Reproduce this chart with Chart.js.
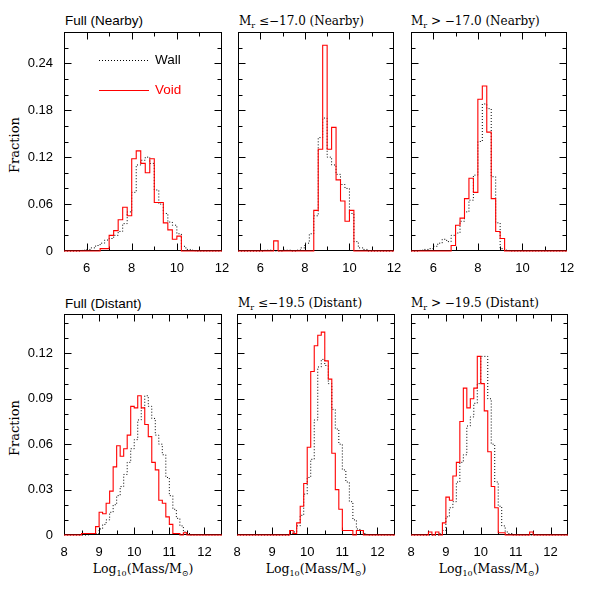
<!DOCTYPE html>
<html lang="en">
<head>
<meta charset="UTF-8">
<title>Stellar mass distributions: wall vs void</title>
<style>
  body { margin: 0; background: #fff; }
  #page { position: relative; width: 599px; height: 599px; overflow: hidden; background: #fff; }
  canvas { position: absolute; }
  .t { position: absolute; white-space: nowrap; color: #000; line-height: 14px; }
  .sans { font-family: "Liberation Sans", Arial, sans-serif; font-size: 13.5px; }
  .serif { font-family: "DejaVu Serif", serif; font-size: 12px; }
  .serif sub { font-size: 8px; vertical-align: -3px; line-height: 0; }
  .ytitle { width: 80px; text-align: center; transform: rotate(-90deg); font-size: 13px; }
  .xtitle { width: 160px; text-align: center; font-size: 12.5px; }
</style>
</head>
<body>
<div id="page">
  <div class="t sans" style="left:65px; top:14px;">Full (Nearby)</div>
  <div class="t serif" style="left:239px; top:14px;">M<sub>r</sub> ≤−17.0 (Nearby)</div>
  <div class="t serif" style="left:411px; top:14px;">M<sub>r</sub> &gt; −17.0 (Nearby)</div>
  <div class="t sans" style="left:65px; top:297px;">Full (Distant)</div>
  <div class="t serif" style="left:238px; top:296px;">M<sub>r</sub> ≤−19.5 (Distant)</div>
  <div class="t serif" style="left:411px; top:296px;">M<sub>r</sub> &gt; −19.5 (Distant)</div>
  <div class="t serif ytitle" style="left:-25px; top:138px;">Fraction</div>
  <div class="t serif ytitle" style="left:-25px; top:421px;">Fraction</div>
  <div class="t serif xtitle" style="left:63px; top:562px;">Log<sub>10</sub>(Mass/M<sub>⊙</sub>)</div>
  <div class="t serif xtitle" style="left:236px; top:562px;">Log<sub>10</sub>(Mass/M<sub>⊙</sub>)</div>
  <div class="t serif xtitle" style="left:409px; top:562px;">Log<sub>10</sub>(Mass/M<sub>⊙</sub>)</div>
</div>

<script src="https://cdn.jsdelivr.net/npm/chart.js@4.4.0/dist/chart.umd.min.js"></script>
<script>
// ---- axes ----
const topXTicks = [6, 8, 10, 12];
const topXMarks = [6, 7, 8, 9, 10, 11];
const topYTicks = [0, 0.06, 0.12, 0.18, 0.24];
const topYLabels = ['0', '0.06', '0.12', '0.18', '0.24'];
const topYMarks = [0.02, 0.04, 0.06, 0.08, 0.10, 0.12, 0.14, 0.16, 0.18, 0.20, 0.22, 0.24, 0.26];
const topXRange = [5, 12];
const topYMax = 0.28;

const botXTicks = [8, 9, 10, 11, 12];
const botXMarks = [8.5, 9, 9.5, 10, 10.5, 11, 11.5, 12];
const botYTicks = [0, 0.03, 0.06, 0.09, 0.12];
const botYLabels = ['0', '0.03', '0.06', '0.09', '0.12'];
const botYMarks = [0.01, 0.02, 0.03, 0.04, 0.05, 0.06, 0.07, 0.08, 0.09, 0.10, 0.11, 0.12, 0.13, 0.14];
const botXRange = [8, 12.5];
const botYMax = 0.146;

const nearbyBin = 0.2;
const distantBin = 0.1;

// ---- histograms (fraction per bin, first bin starts at *Start) ----
const fullNearbyWallStart = 5.8;
const fullNearbyWall = [0.001, 0.002, 0.004, 0.007, 0.010, 0.014, 0.016, 0.020, 0.025, 0.035, 0.050, 0.075, 0.110,
  0.116, 0.120, 0.112, 0.078, 0.060, 0.048, 0.037, 0.033, 0.022, 0.006, 0.002, 0.001];
const fullNearbyVoidStart = 6.6;
const fullNearbyVoid = [0.003, 0.003, 0.020, 0.026, 0.040, 0.056, 0.045, 0.118, 0.128, 0.112, 0.100, 0.118,
  0.062, 0.062, 0.036, 0.027, 0.015, 0.019];

const brightNearbyWallStart = 6.2;
const brightNearbyWall = [0.001, 0.001, 0, 0, 0.001, 0.001, 0, 0.001, 0.004, 0.010, 0.022, 0.045, 0.145, 0.170,
  0.120, 0.110, 0.098, 0.085, 0.080, 0.048, 0.012, 0.004, 0.002];
const brightNearbyVoidStart = 6.6;
const brightNearbyVoid = [0.013, 0, 0, 0, 0, 0, 0, 0, 0, 0.052, 0.130, 0.263, 0.130, 0.158, 0.091, 0.064, 0.038, 0.052];

const faintNearbyWallStart = 5.4;
const faintNearbyWall = [0.001, 0.002, 0.003, 0.006, 0.010, 0.015, 0.012, 0.020, 0.023, 0.038, 0.050, 0.065, 0.097,
  0.140, 0.188, 0.182, 0.095, 0.036, 0.003, 0.001];
const faintNearbyVoidStart = 6.8;
const faintNearbyVoid = [0.007, 0.033, 0.042, 0.067, 0.093, 0.075, 0.194, 0.211, 0.152, 0.067, 0.025, 0.016];

const fullDistantWallStart = 8.7;
const fullDistantWall = [0.0005, 0.0005, 0.001, 0.004, 0.007, 0.010, 0.015, 0.020, 0.026, 0.032, 0.040, 0.048, 0.057,
  0.063, 0.076, 0.084, 0.092, 0.085, 0.077, 0.066, 0.060, 0.053, 0.038, 0.026, 0.017, 0.011, 0.006, 0.002, 0.001];
const fullDistantVoidStart = 8.5;
const fullDistantVoid = [0.001, 0.001, 0.001, 0.001, 0.0055, 0.015, 0.014, 0.021, 0.029, 0.045, 0.059, 0.052, 0.057,
  0.066, 0.085, 0.084, 0.092, 0.084, 0.073, 0.065, 0.048, 0.043, 0.023, 0.021, 0.012, 0.007, 0.001, 0.001, 0, 0.0015];

const brightDistantWallStart = 9.5;
const brightDistantWall = [0.001, 0.002, 0.006, 0.013, 0.027, 0.038, 0.050, 0.076, 0.111, 0.116, 0.112, 0.100, 0.083,
  0.070, 0.060, 0.043, 0.035, 0.022, 0.010, 0.004, 0.002, 0.001];
const brightDistantVoidStart = 9.5;
const brightDistantVoid = [0.003, 0.001, 0.008, 0.019, 0.034, 0.058, 0.108, 0.125, 0.132, 0.134, 0.115, 0.103, 0.054,
  0.030, 0.017, 0.003, 0.003, 0.003, 0, 0.003, 0.003];

const faintDistantWallStart = 8.8;
const faintDistantWall = [0.001, 0.003, 0.012, 0.018, 0.022, 0.035, 0.048, 0.053, 0.072, 0.078, 0.087, 0.100, 0.118,
  0.118, 0.090, 0.060, 0.035, 0.019, 0.006, 0.002, 0.001];
const faintDistantVoidStart = 8.5;
const faintDistantVoid = [0.002, 0, 0.002, 0, 0.008, 0.025, 0.023, 0.039, 0.048, 0.075, 0.097, 0.084, 0.090, 0.097,
  0.118, 0.100, 0.082, 0.055, 0.032, 0.018, 0.0015, 0.0015, 0, 0, 0, 0, 0, 0, 0, 0.002];

const legendLabels = ['Wall', 'Void'];

// canvas margins round each plot box; top/right must cover Chart.js label padding
const M = { l: 44, t: 22, r: 22, b: 28 };
const topRow = { xr: topXRange, ymax: topYMax, xt: topXTicks, xm: topXMarks, yt: topYTicks, yl: topYLabels, ym: topYMarks, bin: nearbyBin };
const botRow = { xr: botXRange, ymax: botYMax, xt: botXTicks, xm: botXMarks, yt: botYTicks, yl: botYLabels, ym: botYMarks, bin: distantBin };

// plot boxes on the page: [left, top, right, bottom]
const panels = [
  { box: [64, 32, 222, 251], row: topRow, showY: true, legend: true,
    wall: [fullNearbyWallStart, fullNearbyWall], void: [fullNearbyVoidStart, fullNearbyVoid] },
  { box: [238, 32, 394, 251], row: topRow,
    wall: [brightNearbyWallStart, brightNearbyWall], void: [brightNearbyVoidStart, brightNearbyVoid] },
  { box: [411, 32, 567, 251], row: topRow,
    wall: [faintNearbyWallStart, faintNearbyWall], void: [faintNearbyVoidStart, faintNearbyVoid] },
  { box: [64, 314, 222, 535], row: botRow, showY: true,
    wall: [fullDistantWallStart, fullDistantWall], void: [fullDistantVoidStart, fullDistantVoid] },
  { box: [237, 314, 395, 535], row: botRow,
    wall: [brightDistantWallStart, brightDistantWall], void: [brightDistantVoidStart, brightDistantVoid] },
  { box: [411, 314, 568, 535], row: botRow,
    wall: [faintDistantWallStart, faintDistantWall], void: [faintDistantVoidStart, faintDistantVoid] }
];

// outline of a histogram as corner points
function steps(start, bin, vals, xr) {
  const pts = [{ x: xr[0], y: 0 }, { x: start, y: 0 }];
  vals.forEach((v, i) => {
    const lo = start + i * bin;
    pts.push({ x: lo, y: v }, { x: lo + bin, y: v });
  });
  pts.push({ x: start + vals.length * bin, y: 0 }, { x: xr[1], y: 0 });
  return pts;
}

const isMajor = (v, list) => list.some(t => Math.abs(t - v) < 1e-6);

function framePlugin(p) {
  return {
    id: 'frame',
    beforeDatasetsDraw(chart) {
      const { ctx, chartArea: a, scales: { x, y } } = chart;
      const L = Math.round(a.left) + 0.5, R = Math.round(a.right) - 0.5;
      const T = Math.round(a.top) + 0.5, B = Math.round(a.bottom) - 0.5;
      ctx.save();
      ctx.strokeStyle = '#000';
      ctx.lineWidth = 1;
      ctx.strokeRect(L, T, R - L, B - T);
      ctx.beginPath();
      p.row.xm.forEach(v => {
        const px = Math.round(x.getPixelForValue(v)) + 0.5;
        const len = isMajor(v, p.row.xt) ? 7 : 4;
        ctx.moveTo(px, B); ctx.lineTo(px, B - len);
        ctx.moveTo(px, T); ctx.lineTo(px, T + len);
      });
      p.row.ym.forEach(v => {
        const py = Math.round(y.getPixelForValue(v)) + 0.5;
        const len = isMajor(v, p.row.yt) ? 7 : 4;
        ctx.moveTo(L, py); ctx.lineTo(L + len, py);
        ctx.moveTo(R, py); ctx.lineTo(R - len, py);
      });
      ctx.stroke();
      ctx.restore();
    },
    afterDatasetsDraw(chart) {
      if (!p.legend) return;
      const { ctx, chartArea: a } = chart;
      const sets = chart.data.datasets;
      const rows = [[sets[1], a.top + 28.5, '#000'], [sets[0], a.top + 58.5, '#ff0000']];
      ctx.save();
      ctx.font = '13.5px "Liberation Sans", Arial, sans-serif';
      ctx.textBaseline = 'middle';
      rows.forEach(([ds, yy, col], i) => {
        ctx.strokeStyle = ds.borderColor;
        ctx.lineWidth = ds.borderWidth;
        ctx.setLineDash(ds.borderDash || []);
        ctx.beginPath();
        ctx.moveTo(a.left + 35, yy);
        ctx.lineTo(a.left + 85, yy);
        ctx.stroke();
        ctx.fillStyle = col;
        ctx.fillText(legendLabels[i], a.left + 91, yy);
      });
      ctx.restore();
    }
  };
}

const page = document.getElementById('page');

panels.forEach(p => {
  const [l, t, r, b] = p.box;
  const cv = document.createElement('canvas');
  cv.width = r - l + M.l + M.r;
  cv.height = b - t + M.t + M.b;
  cv.style.left = (l - M.l) + 'px';
  cv.style.top = (t - M.t) + 'px';
  page.appendChild(cv);

  new Chart(cv, {
    type: 'line',
    data: {
      datasets: [
        { label: 'Void', data: steps(p.void[0], p.row.bin, p.void[1], p.row.xr),
          borderColor: '#ff0000', borderWidth: 1.1, pointRadius: 0, tension: 0, clip: false },
        { label: 'Wall', data: steps(p.wall[0], p.row.bin, p.wall[1], p.row.xr),
          borderColor: '#000000', borderWidth: 1, borderDash: [1, 2], pointRadius: 0, tension: 0, clip: false }
      ]
    },
    options: {
      responsive: false,
      animation: false,
      devicePixelRatio: 1,
      layout: { padding: { left: 0, top: M.t, right: M.r, bottom: 0 } },
      plugins: { legend: { display: false }, tooltip: { enabled: false } },
      scales: {
        x: {
          type: 'linear', min: p.row.xr[0], max: p.row.xr[1],
          grid: { display: false, drawTicks: false },
          border: { display: false },
          afterBuildTicks: s => { s.ticks = p.row.xt.map(v => ({ value: v })); },
          afterFit: s => { s.height = M.b; },
          ticks: { color: '#000', padding: 10, maxRotation: 0, autoSkip: false,
                   font: { family: 'Liberation Sans', size: 13 }, callback: v => String(v) }
        },
        y: {
          type: 'linear', min: 0, max: p.row.ymax,
          grid: { display: false, drawTicks: false },
          border: { display: false },
          afterBuildTicks: s => { s.ticks = p.row.yt.map(v => ({ value: v })); },
          afterFit: s => { s.width = M.l; },
          ticks: { display: !!p.showY, color: '#000', padding: 11, autoSkip: false,
                   font: { family: 'Liberation Sans', size: 13 }, callback: (v, i) => p.row.yl[i] }
        }
      }
    },
    plugins: [framePlugin(p)]
  });
});
</script>
</body>
</html>
